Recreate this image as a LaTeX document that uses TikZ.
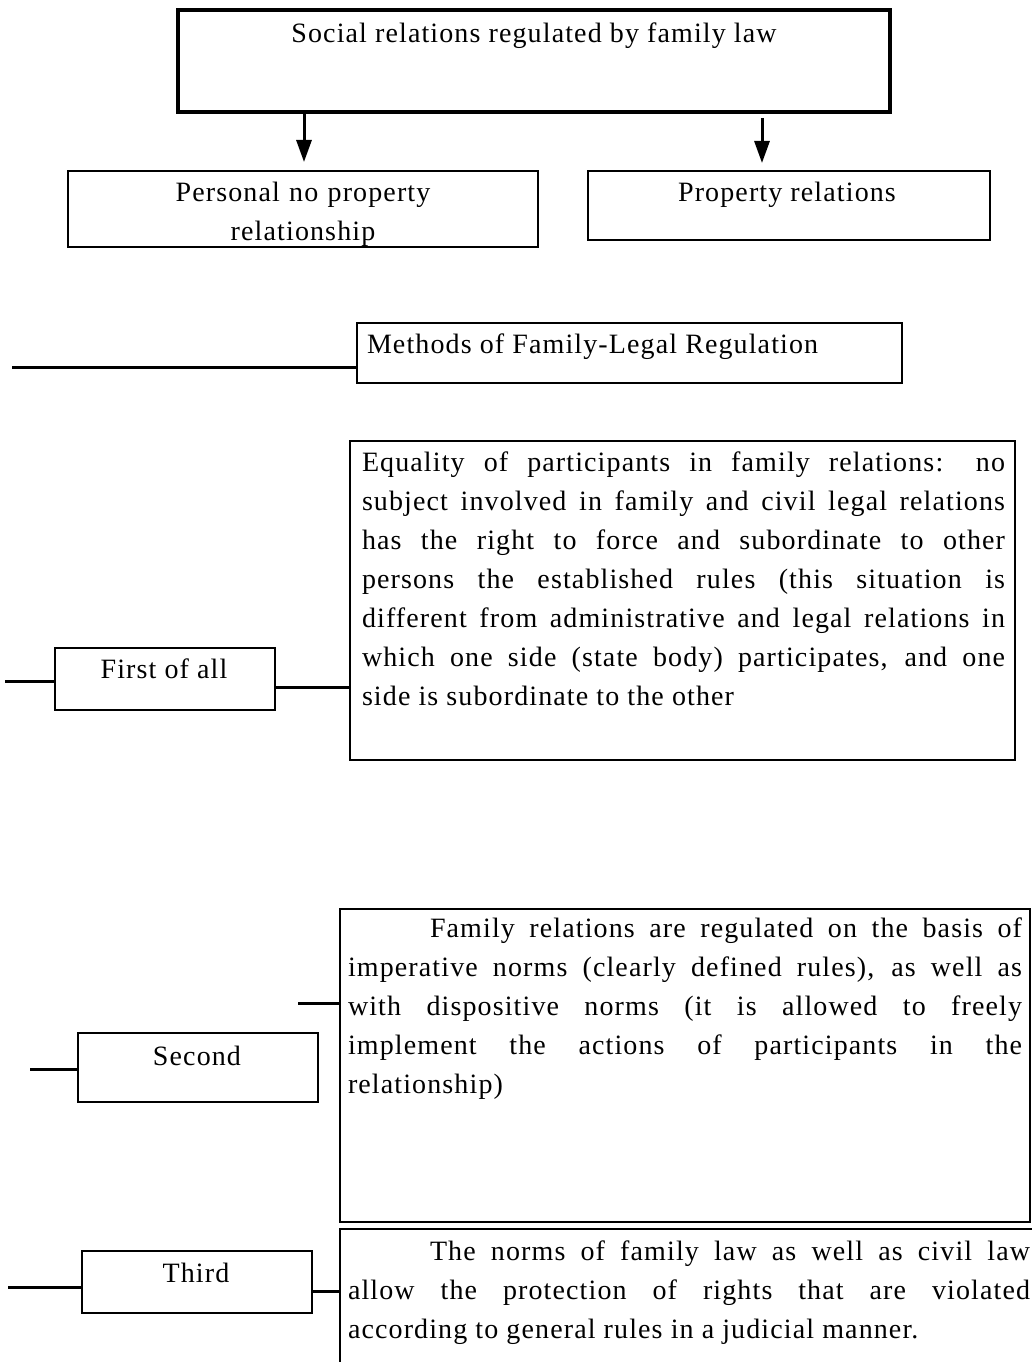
\documentclass[tikz,border=0pt]{standalone}
\usepackage{fontspec}
\setmainfont{Liberation Serif}[LetterSpace=4]
\usetikzlibrary{arrows.meta}
\tolerance=10000 \hbadness=10000 \hyphenpenalty=10000 \exhyphenpenalty=10000
\tikzset{
  box/.style={draw=black, line width=2.4pt, rectangle, inner sep=0pt, outer sep=0pt, anchor=north west},
  txt/.style={inner sep=0pt, outer sep=0pt, font=\fontsize{28}{39}\selectfont},
  para/.style={txt, align=justify, anchor=base west},
  conn/.style={line width=3pt},
  arr/.style={line width=3pt, -{Triangle[width=15pt,length=22pt]}}
}
\begin{document}
\begin{tikzpicture}[x=1pt,y=-1pt]
\useasboundingbox (0,0) rectangle (1032,1362);
\clip (0,0) rectangle (1032,1362);
% boxes
\node[box, line width=3.5pt, minimum width=712pt, minimum height=102pt] (top) at (178,10) {};
\node[box, minimum width=470pt, minimum height=76pt] (pn) at (68,171) {};
\node[box, minimum width=402pt, minimum height=69pt] (pr) at (588,171) {};
\node[box, minimum width=545pt, minimum height=60pt] (meth) at (357,323) {};
\node[box, minimum width=665pt, minimum height=319pt] (eq) at (350,441) {};
\node[box, minimum width=220pt, minimum height=62pt] (first) at (55,648) {};
\node[box, minimum width=690pt, minimum height=313pt] (fam) at (340,909) {};
\node[box, minimum width=240pt, minimum height=69pt] (second) at (78,1033) {};
\node[box, minimum width=230pt, minimum height=62pt] (third) at (82,1251) {};
\node[box, minimum width=720pt, minimum height=160pt] (norm) at (340,1229) {};
% texts
\node[txt, anchor=base] (ttop) at (534,43) {Social relations regulated by family law};
\node[txt, anchor=base, align=center, text width=460pt] (tpn) at (303,201) {Personal no property\\relationship};
\node[txt, anchor=base] (tpr) at (787,201) {Property relations};
\node[txt, anchor=base west] (tmeth) at (367,353) {Methods of Family-Legal Regulation};
\node[para, text width=643pt] (teq) at (362,471) {Equality of participants in family relations: no\linebreak
subject involved in family and civil legal relations\linebreak
has the right to force and subordinate to other\linebreak
persons the established rules (this situation is\linebreak
different from administrative and legal relations in\linebreak
which one side (state body) participates, and one\linebreak
side is subordinate to the other};
\node[txt, anchor=base] (tfirst) at (164,678) {First of all};
\node[para, text width=674pt] (tfam) at (348,937) {\hspace*{82pt}Family relations are regulated on the basis of\linebreak
imperative norms (clearly defined rules), as well as\linebreak
with dispositive norms (it is allowed to freely\linebreak
implement the actions of participants in the\linebreak
relationship)};
\node[txt, anchor=base] (tsecond) at (197,1065) {Second};
\node[txt, anchor=base] (tthird) at (196,1282) {Third};
\node[para, text width=682pt] (tnorm) at (348,1260) {\hspace*{82pt}The norms of family law as well as civil law\linebreak
allow the protection of rights that are violated\linebreak
according to general rules in a judicial manner.};
% arrows
\coordinate (a1e) at (304,162);
\draw[arr] (a1e |- top.south) -- (a1e);
\coordinate (a2e) at (762,163);
\draw[arr] ([yshift=-6pt]a2e |- top.south) -- (a2e);
% connectors
\coordinate (m0) at (12,367);
\draw[conn] (m0) -- (m0 -| meth.west);
\coordinate (f0) at (5,681);
\draw[conn] (f0) -- (f0 -| first.west);
\coordinate (f1) at (0,687);
\draw[conn] (f1 -| first.east) -- (f1 -| eq.west);
\coordinate (s0) at (30,1069);
\draw[conn] (s0) -- (s0 -| second.west);
\coordinate (s1) at (298,1003);
\draw[conn] (s1) -- (s1 -| fam.west);
\coordinate (t0) at (8,1287);
\draw[conn] (t0) -- (t0 -| third.west);
\coordinate (t1) at (0,1291);
\draw[conn] (t1 -| third.east) -- (t1 -| norm.west);
\end{tikzpicture}
\end{document}
